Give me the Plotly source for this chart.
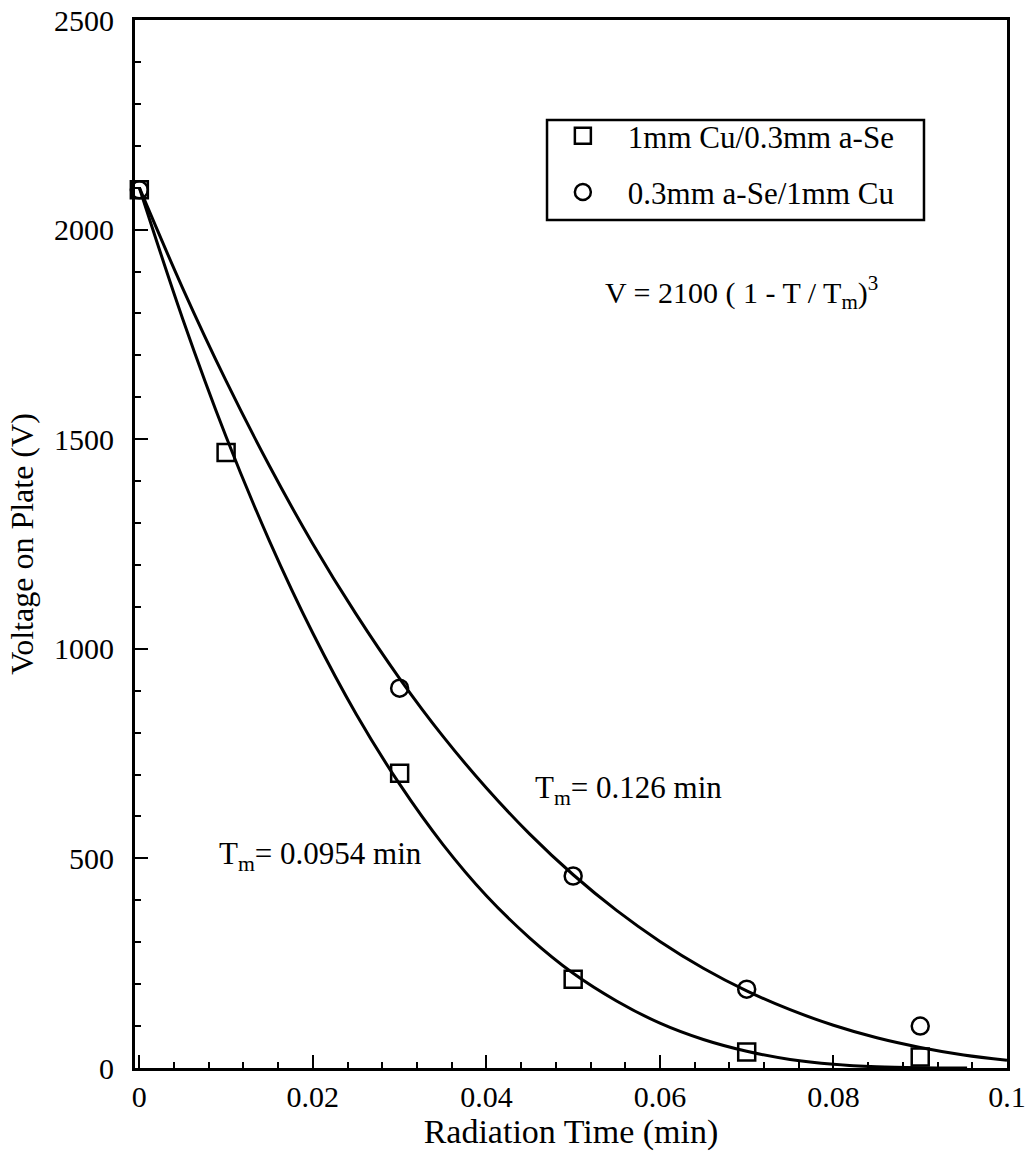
import plotly.graph_objects as go

# Measured data points
t_sq = [0.0, 0.01, 0.03, 0.05, 0.07, 0.09]
v_sq = [2095, 1468, 703, 212, 38, 26]
t_ci = [0.0, 0.03, 0.05, 0.07, 0.09]
v_ci = [2095, 906, 458, 188, 100]

# Fitted curves V = 2100 (1 - T/Tm)^3
t_fit1 = [0.0, 0.005, 0.01, 0.015, 0.02, 0.025, 0.03, 0.035, 0.04, 0.045, 0.05,
          0.055, 0.06, 0.065, 0.07, 0.075, 0.08, 0.085, 0.09, 0.0954]
v_fit1 = [2100, 1787, 1506, 1257, 1037, 844, 677, 533, 411, 310, 226,
          160, 107, 68, 40, 20.5, 8.8, 2.7, 0.4, 0]
t_fit2 = [0.0, 0.005, 0.01, 0.015, 0.02, 0.025, 0.03, 0.035, 0.04, 0.045, 0.05,
          0.055, 0.06, 0.065, 0.07, 0.075, 0.08, 0.085, 0.09, 0.095, 0.1]
v_fit2 = [2100, 1860, 1639, 1436, 1250, 1082, 929, 791, 668, 558, 461,
          376, 302, 238, 184, 139, 102, 72, 49, 31, 18.5]

names = ["1mm Cu/0.3mm a-Se", "0.3mm a-Se/1mm Cu"]
x_ticks = [0, 0.02, 0.04, 0.06, 0.08, 0.1]
x_labels = ["0", "0.02", "0.04", "0.06", "0.08", "0.1"]
y_ticks = [0, 500, 1000, 1500, 2000, 2500]

FONT = "Liberation Serif"

fig = go.Figure()
fig.add_trace(go.Scatter(x=t_fit1, y=v_fit1, mode="lines", line=dict(color="black", width=3, shape="spline"),
                         showlegend=False, hoverinfo="skip"))
fig.add_trace(go.Scatter(x=t_fit2, y=v_fit2, mode="lines", line=dict(color="black", width=3, shape="spline"),
                         showlegend=False, hoverinfo="skip"))
fig.add_trace(go.Scatter(x=t_sq, y=v_sq, mode="markers", name=names[0], legendgroup="a",
                         marker=dict(symbol="square-open", size=17, color="black", line=dict(width=2.5, color="black")),
                         cliponaxis=False))
fig.add_trace(go.Scatter(x=t_ci, y=v_ci, mode="markers", name=names[1], legendgroup="b",
                         marker=dict(symbol="circle-open", size=17, color="black", line=dict(width=2.5, color="black")),
                         cliponaxis=False))

axis_common = dict(showline=True, linecolor="black", linewidth=3, mirror=True,
                   ticks="inside", ticklen=13, tickwidth=2, tickcolor="black",
                   showgrid=False, zeroline=False, automargin=False,
                   tickfont=dict(family=FONT, size=30, color="black"))

fig.update_xaxes(range=[-0.0005, 0.1], tickvals=x_ticks, ticktext=x_labels,
                 minor=dict(dtick=0.004, tick0=0, ticks="inside", ticklen=6, tickwidth=1.5, tickcolor="black"),
                 title=dict(text="Radiation Time (min)", font=dict(family=FONT, size=34, color="black"), standoff=8),
                 **axis_common)
fig.update_yaxes(range=[0, 2500], tickvals=y_ticks,
                 minor=dict(dtick=100, tick0=0, ticks="inside", ticklen=6, tickwidth=1.5, tickcolor="black"),
                 title=dict(text="Voltage on Plate (V)", font=dict(family=FONT, size=32, color="black"), standoff=11),
                 ticklabelstandoff=12,
                 **axis_common)

fig.add_annotation(x=0.0854, y=1850, xanchor="right", yanchor="middle", showarrow=False,
                   text="V = 2100 ( 1 - T / T<sub>m</sub>)<sup>3</sup>",
                   font=dict(family=FONT, size=30, color="black"))
fig.add_annotation(x=0.0454, y=663, xanchor="left", yanchor="middle", showarrow=False,
                   text="T<sub>m</sub>= 0.126 min",
                   font=dict(family=FONT, size=31, color="black"))
fig.add_annotation(x=0.0089, y=506, xanchor="left", yanchor="middle", showarrow=False,
                   text="T<sub>m</sub>= 0.0954 min",
                   font=dict(family=FONT, size=31, color="black"))

# legend frame
fig.add_shape(type="rect", xref="paper", yref="paper", x0=0.4725, x1=0.9048, y0=0.8092, y1=0.9046,
              line=dict(color="black", width=2.5), fillcolor="rgba(0,0,0,0)", layer="above")

fig.update_layout(
    width=1027, height=1161,
    margin=dict(l=135, r=20, t=20, b=93),
    paper_bgcolor="white", plot_bgcolor="white",
    font=dict(family=FONT, color="black"),
    legend=dict(x=0.462, y=0.915, xanchor="left", yanchor="top",
                borderwidth=0, bgcolor="rgba(0,0,0,0)",
                font=dict(family=FONT, size=31, color="black"),
                traceorder="grouped", tracegroupgap=13, itemwidth=80),
    showlegend=True,
)

fig.write_html("out.html")
